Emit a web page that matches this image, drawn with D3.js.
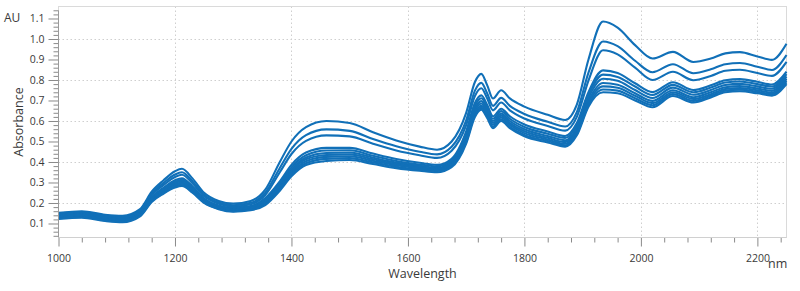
<!DOCTYPE html>
<html><head><meta charset="utf-8">
<script src="https://cdn.jsdelivr.net/npm/d3@7"></script>
<style>
html,body{margin:0;padding:0;background:#fff;}
svg{display:block;}
text{font-family:"Open Sans","Segoe UI",sans-serif;fill:#3a3a3a;}
</style></head>
<body><svg id="c" width="800" height="291"></svg>
<script>
const wavelengths=[1000,1040,1080,1110,1140,1160,1180,1200,1212,1230,1250,1275,1300,1330,1355,1380,1400,1425,1460,1500,1540,1580,1620,1650,1675,1700,1715,1726,1736,1746,1760,1775,1800,1840,1870,1890,1910,1935,1960,1990,2020,2055,2090,2120,2145,2170,2200,2225,2250];
const s1=[.152,.160,.143,.138,.170,.255,.310,.355,.367,.320,.250,.210,.197,.210,.265,.400,.500,.570,.600,.590,.545,.505,.475,.460,.500,.640,.790,.830,.775,.710,.750,.710,.670,.630,.605,.680,.900,1.085,1.055,.970,.905,.937,.888,.905,.930,.936,.915,.898,.977];
const s2=[.149,.156,.140,.134,.166,.245,.297,.339,.350,.306,.240,.202,.189,.201,.250,.371,.464,.531,.559,.552,.512,.477,.450,.437,.474,.603,.748,.786,.735,.674,.713,.674,.634,.596,.573,.643,.836,.988,.965,.894,.838,.877,.833,.852,.877,.883,.865,.849,.922];
const s3=[.145,.153,.136,.131,.162,.238,.287,.327,.338,.296,.233,.196,.183,.194,.239,.350,.439,.503,.530,.525,.489,.456,.433,.420,.455,.580,.722,.760,.711,.652,.690,.652,.612,.576,.553,.620,.797,.945,.925,.860,.800,.840,.799,.820,.845,.850,.834,.820,.888];
const s4=[.142,.149,.133,.127,.158,.228,.274,.311,.321,.282,.223,.188,.176,.185,.224,.306,.386,.446,.469,.469,.441,.415,.396,.386,.416,.550,.688,.725,.679,.623,.660,.623,.583,.549,.527,.590,.741,.847,.834,.784,.741,.789,.751,.774,.799,.804,.791,.778,.841];
const s5=[.139,.146,.129,.124,.155,.223,.268,.304,.313,.275,.218,.184,.172,.181,.217,.296,.374,.433,.456,.457,.430,.405,.388,.379,.408,.538,.674,.711,.666,.611,.648,.611,.571,.538,.517,.578,.728,.826,.815,.768,.727,.776,.740,.763,.788,.793,.780,.768,.829];
const s6=[.135,.142,.126,.120,.150,.219,.263,.297,.307,.270,.214,.181,.169,.178,.211,.288,.364,.422,.444,.446,.421,.397,.381,.372,.400,.526,.661,.697,.653,.600,.636,.600,.560,.527,.506,.566,.714,.806,.796,.751,.712,.763,.728,.751,.776,.781,.769,.757,.817];
const s7=[.132,.139,.122,.117,.147,.215,.258,.291,.300,.264,.210,.178,.166,.174,.205,.281,.356,.413,.434,.437,.413,.390,.375,.367,.394,.516,.649,.685,.642,.590,.626,.590,.550,.518,.497,.556,.700,.785,.777,.735,.698,.750,.716,.740,.765,.770,.758,.747,.806];
const s8=[.129,.135,.119,.113,.143,.212,.253,.285,.294,.259,.207,.175,.163,.171,.200,.274,.347,.404,.425,.428,.406,.384,.369,.361,.388,.507,.639,.674,.633,.581,.617,.581,.541,.510,.489,.547,.690,.769,.762,.723,.687,.740,.707,.731,.756,.761,.750,.739,.797];
const s9=[.125,.132,.115,.110,.139,.208,.249,.280,.288,.254,.203,.172,.160,.168,.195,.267,.339,.394,.415,.419,.398,.377,.363,.356,.381,.498,.629,.664,.623,.572,.608,.572,.532,.502,.482,.538,.679,.754,.748,.711,.677,.731,.698,.723,.748,.753,.742,.731,.788];
const s10=[.122,.128,.112,.106,.135,.205,.245,.275,.283,.250,.200,.170,.158,.165,.190,.260,.330,.385,.405,.410,.390,.370,.357,.350,.375,.490,.620,.655,.615,.565,.600,.565,.525,.495,.475,.530,.670,.740,.735,.700,.667,.722,.690,.715,.740,.745,.735,.724,.780];
const seriesList=[s1,s2,s3,s4,s5,s6,s7,s8,s9,s10];
const xMajor=[1000,1200,1400,1600,1800,2000,2200];
const xMinor=[1040,1080,1120,1160,1240,1280,1320,1360,1440,1480,1520,1560,1640,1680,1720,1760,1840,1880,1920,1960,2040,2080,2120,2160,2240];
const yMajor=[0.1,0.2,0.3,0.4,0.5,0.6,0.7,0.8,0.9,1.0,1.1];
const yGrid=[0.2,0.4,0.6,0.8,1.0];
const yMinor=[0.04,0.06,0.08,0.12,0.14,0.16,0.18,0.22,0.24,0.26,0.28,0.32,0.34,0.36,0.38,0.42,0.44,0.46,0.48,0.52,0.54,0.56,0.58,0.62,0.64,0.66,0.68,0.72,0.74,0.76,0.78,0.82,0.84,0.86,0.88,0.92,0.94,0.96,0.98,1.02,1.04,1.06,1.08,1.12,1.14];

const L=58.5,R=786.5,T=6.5,B=237.5;
const svg=d3.select('#c');
const x=d3.scaleLinear().domain([1000,2250]).range([L,R]);
const y=d3.scaleLinear().domain([0.0317,1.1585]).range([B,T]);

// grid
const g=svg.append('g');
g.selectAll('.gx').data(xMajor.slice(1)).join('line')
 .attr('x1',d=>Math.round(x(d))+0.5).attr('x2',d=>Math.round(x(d))+0.5).attr('y1',T).attr('y2',B)
 .attr('stroke','#cfcfcf').attr('stroke-dasharray','1.5,2.5');
g.selectAll('.gy').data(yGrid).join('line')
 .attr('y1',d=>Math.round(y(d))+0.5).attr('y2',d=>Math.round(y(d))+0.5).attr('x1',L).attr('x2',R)
 .attr('stroke','#cfcfcf').attr('stroke-dasharray','1.5,2.5');
// frame
svg.append('rect').attr('x',L).attr('y',T).attr('width',R-L).attr('height',B-T)
 .attr('fill','none').attr('stroke','#dadada');

// lines
const line=d3.line().x((d,i)=>x(wavelengths[i])).y(d=>y(d)).curve(d3.curveMonotoneX);
svg.append('g').selectAll('path').data(seriesList).join('path')
 .attr('d',line).attr('fill','none').attr('stroke','#1170b8').attr('stroke-width',2.1)
 .attr('stroke-linejoin','round');

// axes
const ax=svg.append('g').attr('transform',`translate(0,${B})`);
ax.call(d3.axisBottom(x).tickValues(xMajor).tickSize(9).tickPadding(8).tickFormat(d3.format('d')));
const axm=svg.append('g').attr('transform',`translate(0,${B})`);
axm.call(d3.axisBottom(x).tickValues(xMinor).tickSize(5).tickFormat(''));
const ay=svg.append('g').attr('transform',`translate(${L},0)`);
ay.call(d3.axisLeft(y).tickValues(yMajor).tickSize(10).tickPadding(4).tickFormat(d3.format('.1f')));
const aym=svg.append('g').attr('transform',`translate(${L},0)`);
aym.call(d3.axisLeft(y).tickValues(yMinor).tickSize(5).tickFormat(''));
[ax,axm,ay,aym].forEach(a=>{
  a.select('.domain').remove();
  a.selectAll('.tick line').attr('stroke','#8a8a8a');
  a.selectAll('text').attr('font-size','10.5px').attr('fill','#3a3a3a').attr('font-family','"Open Sans",sans-serif');
});
svg.append('line').attr('x1',L).attr('x2',L).attr('y1',T+4).attr('y2',B).attr('stroke','#9a9a9a');
svg.append('line').attr('x1',L).attr('x2',R).attr('y1',B).attr('y2',B).attr('stroke','#d0d0d0');

svg.append('text').attr('x',4).attr('y',22).attr('font-size','12px').text('AU');
svg.append('text').attr('transform',`translate(23,${(T+B)/2}) rotate(-90)`).attr('text-anchor','middle')
 .attr('font-size','12.5px').text('Absorbance');
svg.append('text').attr('x',(L+R)/2).attr('y',278).attr('text-anchor','middle').attr('font-size','12.5px').text('Wavelength');
svg.append('text').attr('x',768).attr('y',268).attr('font-size','12.5px').text('nm');
</script></body></html>
